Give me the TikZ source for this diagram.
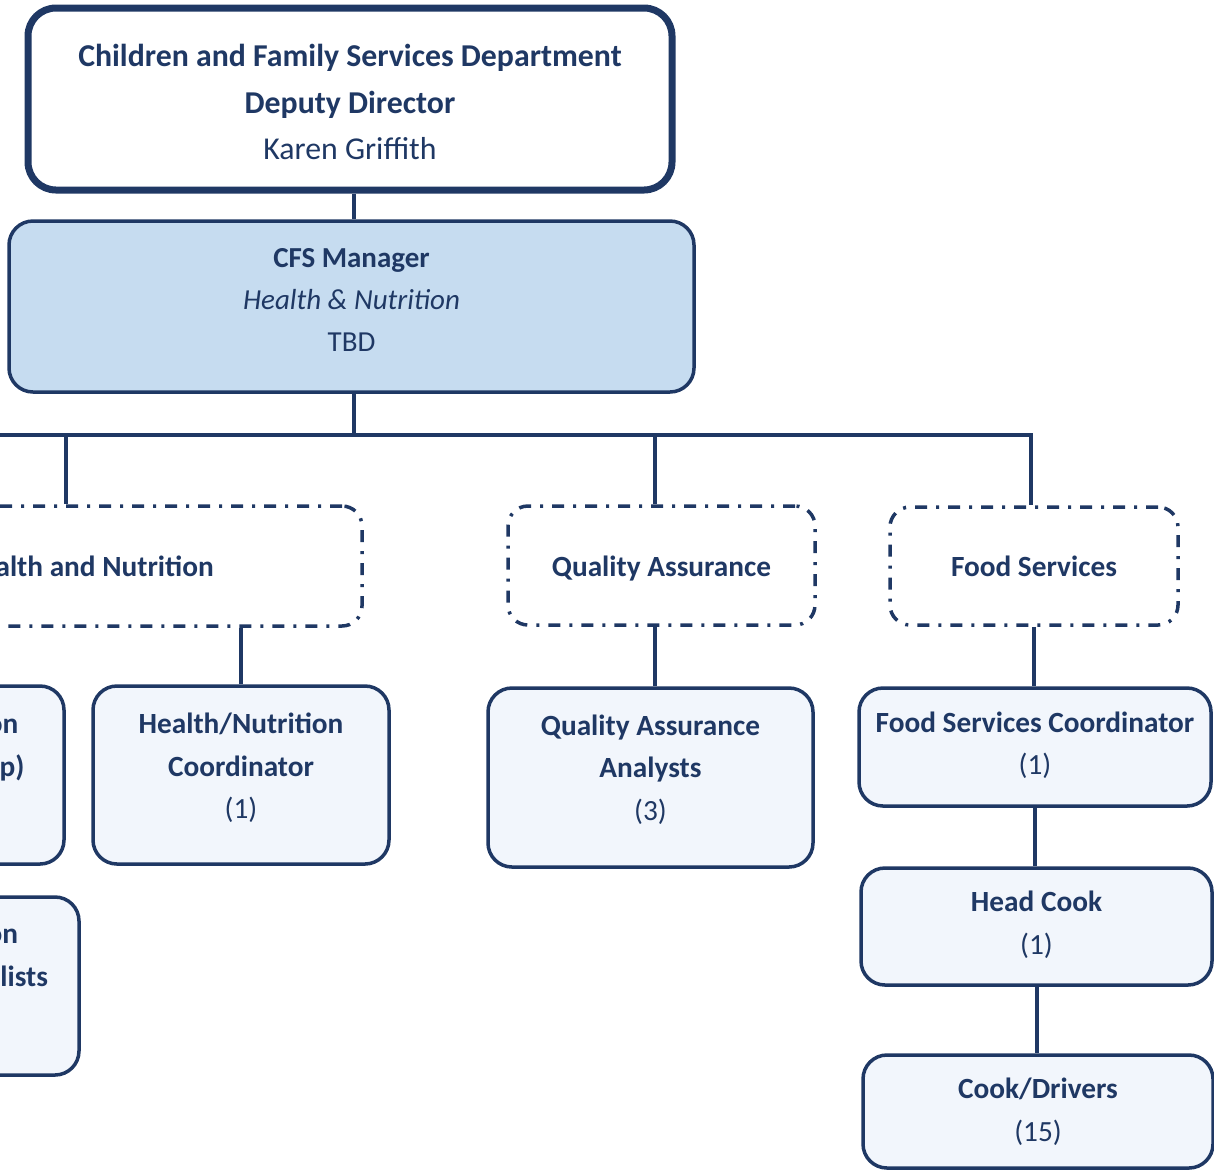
\documentclass[tikz,border=0pt]{standalone}
\usepackage{fontspec}
\setmainfont{Carlito}
\definecolor{navy}{HTML}{1F3864}
\definecolor{mgrfill}{HTML}{C6DCF0}
\definecolor{boxfill}{HTML}{F2F6FC}
\begin{document}
\begin{tikzpicture}[x=1pt,y=-1pt,
  every node/.style={text=navy, align=center, inner sep=0pt},
  solidbox/.style={draw=navy, line width=3.5pt, rounded corners=24pt, fill=boxfill},
  dashbox/.style={draw=navy, line width=3.5pt, rounded corners=20pt, fill=white, dash pattern=on 12pt off 9pt on 3pt off 9pt},
  txt/.style={font=\fontsize{29.3}{42.5}\selectfont},
  dashtxt/.style={font=\fontsize{29.3}{42.5}\selectfont\bfseries},
  link/.style={draw=navy, line width=4pt}]
\useasboundingbox (0,0) rectangle (1214,1171);
\clip (0,0) rectangle (1214,1171);
% top
\node[draw=navy, line width=7pt, rounded corners=28pt, fill=white, minimum width=644pt, minimum height=182pt] (dd) at (350,99) {};
\node[font=\fontsize{31.8}{46.5}\selectfont] (ddt) at ([yshift=-3pt]dd.center)
  {\textbf{Children and Family Services Department}\\ \textbf{Deputy Director}\\ Karen Griffith};
\node[solidbox, fill=mgrfill, minimum width=685pt, minimum height=171pt] (mgr) at (351.5,306.5) {};
\node[font=\fontsize{29}{42}\selectfont] (mgrt) at ([yshift=7pt]mgr.center)
  {\textbf{CFS Manager}\\ \textit{Health \& Nutrition}\\ TBD};
% second level
\node[dashbox, minimum width=548pt, minimum height=120pt] (hn) at (88,566) {};
\node[dashtxt] (hnt) at (hn.center) {Health and Nutrition};
\node[dashbox, minimum width=307pt, minimum height=119pt] (qa) at (661.5,565.5) {};
\node[dashtxt] (qat) at ([yshift=-3pt]qa.center) {Quality Assurance};
\node[dashbox, minimum width=288pt, minimum height=118pt] (fs) at (1034,566) {};
\node[dashtxt] (fst) at (fs.center) {Food Services};
% third level
\node[solidbox, minimum width=296pt, minimum height=178pt] (hs) at (-84,775) {};
\node[txt] (hst) at ([yshift=7pt]hs.center) {\textbf{Health/Nutrition}\\ \textbf{Specialists (Temp)}\\ (1)};
\node[solidbox, minimum width=296pt, minimum height=178pt] (hnc) at (241,775) {};
\node[txt] (hnct) at ([yshift=7pt]hnc.center) {\textbf{Health/Nutrition}\\ \textbf{Coordinator}\\ (1)};
\node[solidbox, minimum width=296pt, minimum height=178pt] (ns) at (-69,986) {};
\node[txt] (nst) at ([yshift=8pt]ns.center) {\textbf{Child Education}\rule{14pt}{0pt}\\ \textbf{Nutrition Specialists}\rule{10pt}{0pt}\\ (2)};
\node[solidbox, minimum width=325pt, minimum height=179pt] (qaa) at (650.5,777.5) {};
\node[txt] (qaat) at ([yshift=8pt]qaa.center) {\textbf{Quality Assurance}\\ \textbf{Analysts}\\ (3)};
\node[solidbox, minimum width=352pt, minimum height=118pt] (fsc) at (1035,747) {};
\node[txt] (fsct) at ([yshift=2pt]fsc.center) {\textbf{Food Services Coordinator}\\ (1)};
\node[solidbox, minimum width=351pt, minimum height=117pt] (hc) at (1036.5,926.5) {};
\node[txt] (hct) at ([yshift=2pt]hc.center) {\textbf{Head Cook}\\ (1)};
\node[solidbox, minimum width=350pt, minimum height=113pt] (cd) at (1038,1111.5) {};
\node[txt] (cdt) at (cd.center) {\textbf{Cook/Drivers}\\ (15)};
% connectors
\coordinate (busL) at (-300,435);
\coordinate (busR) at (1031,435);
\coordinate (mx) at (354,0);
\draw[link] (dd.south -| mx) -- (mgr.north -| mx);
\draw[link] (mgr.south -| mx) -- (354,435);
\draw[link] (busL) -- (busR) -- (fs.north -| busR);
\draw[link] (66,435) -- (hn.north -| 66,0);
\draw[link] (655,435) -- (qa.north -| 655,0);
\draw[link] (hn.south -| hnc.north) -- (hnc.north);
\draw[link] (qa.south -| 655,0) -- (qaa.north -| 655,0);
\draw[link] (fs.south) -- (fsc.north -| fs.south);
\draw[link] (fsc.south) -- (hc.north -| fsc.south);
\draw[link] (hc.south) -- (cd.north -| hc.south);
\end{tikzpicture}
\end{document}
